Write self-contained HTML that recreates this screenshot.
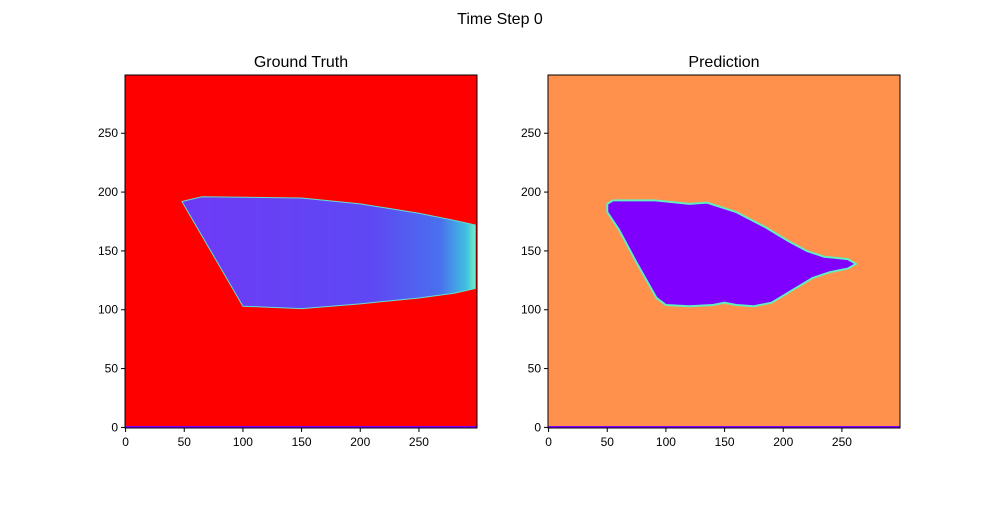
<!DOCTYPE html>
<html><head><meta charset="utf-8"><style>body{margin:0;background:#fff}text{font-family:"Liberation Sans",sans-serif;fill:#000}</style></head>
<body>
<svg id="fig" width="1000" height="500" xmlns="http://www.w3.org/2000/svg">
<defs>
<linearGradient id="gtg" x1="0" x2="1" y1="0" y2="0">
<stop offset="0" stop-color="#6e3af6"/><stop offset="0.65" stop-color="#5e48f3"/><stop offset="0.88" stop-color="#4a70ee"/><stop offset="0.97" stop-color="#40c0e0"/><stop offset="1" stop-color="#70f0c0"/>
</linearGradient>
</defs>
<text x="500" y="24" font-size="16" text-anchor="middle">Time Step 0</text>
<g id="panels"></g>
</svg>
<script>
const ticks=[0,50,100,150,200,250];
const gtShape=[[48,192],[65,196],[150,195],[200,190],[250,182],[280,176],[298,172],[298,118],[280,114],[250,110],[200,105],[150,101],[100,103]];
const predShape=[[50,190],[55,193],[90,193],[120,190],[135,191],[160,183],[185,170],[205,158],[220,150],[235,145],[255,143],[262,139],[255,135],[240,132],[225,127],[205,115],[190,106],[175,103],[160,104],[150,106],[140,104],[120,103],[100,104],[92,110],[75,140],[60,168],[50,183]];
const NS='http://www.w3.org/2000/svg';
const g=document.getElementById('panels');
function mk(t,a,p){const e=document.createElementNS(NS,t);for(const k in a)e.setAttribute(k,a[k]);(p||g).appendChild(e);return e;}
const panels=[{x0:125,title:'Ground Truth',bg:'#ff0000',shape:gtShape,fill:'url(#gtg)',stroke:'#60e0d0',sw:1,name:'ground-truth'},
{x0:548,title:'Prediction',bg:'#ff914d',shape:predShape,fill:'#7f00ff',stroke:'#60f0c0',sw:2,name:'prediction'}];
const W=352,H=353,Y0=75;
panels.forEach(p=>{
 const sx=v=>p.x0+(v+0.5)*W/300, sy=v=>Y0+H-(v+0.5)*H/300;
 const grp=mk('g',{});
 
 
 const bg=mk('rect',{x:p.x0,y:Y0,width:W,height:H,fill:p.bg},grp);
 
 
 const sh=mk('polygon',{points:p.shape.map(d=>sx(d[0])+','+sy(d[1])).join(' '),fill:p.fill,stroke:p.stroke,'stroke-width':p.sw,'stroke-linejoin':'round'},grp);
 
 
 const bl=mk('rect',{x:p.x0,y:Y0+H-2,width:W,height:2,fill:'#7f00ff'},grp);
 
 
 const fr=mk('rect',{x:p.x0,y:Y0,width:W,height:H,fill:'none',stroke:'#000','stroke-width':1},grp);
 
 
 const tt=mk('text',{x:p.x0+W/2,y:Y0-8,'font-size':16,'text-anchor':'middle'},grp);
 tt.textContent=p.title;
 
 
 ticks.forEach(t=>{
  const x=sx(t),y=sy(t);
  const a=mk('line',{x1:x,x2:x,y1:Y0+H,y2:Y0+H+4,stroke:'#000'},grp);
  
  
  const at=mk('text',{x:x,y:Y0+H+18,'font-size':12,'text-anchor':'middle'},grp);
  at.textContent=t;
  
  
  const b=mk('line',{x1:p.x0-4,x2:p.x0,y1:y,y2:y,stroke:'#000'},grp);
  
  
  const bt=mk('text',{x:p.x0-7,y:y+4,'font-size':12,'text-anchor':'end'},grp);
  bt.textContent=t;
  
  
 });
});
</script>
</body></html>
